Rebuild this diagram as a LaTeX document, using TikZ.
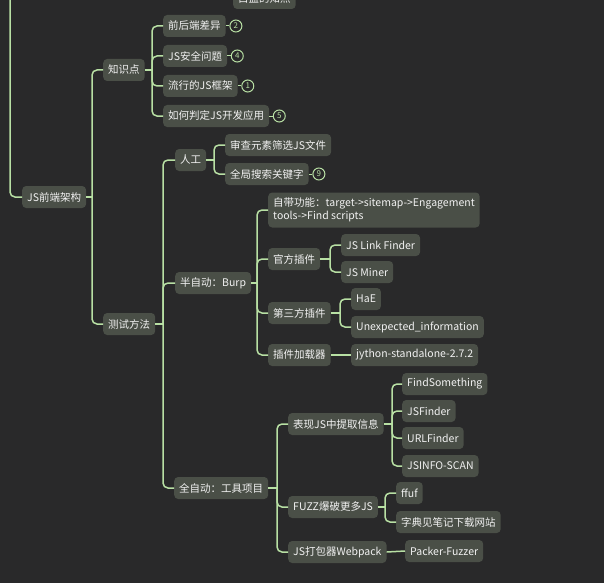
\documentclass[tikz,border=0pt]{standalone}
\usepackage{fontspec}
\setmainfont{Noto Sans CJK SC}
\usetikzlibrary{calc}
\definecolor{bg}{HTML}{29292A}
\definecolor{nodefill}{HTML}{4A4F47}
\definecolor{linec}{HTML}{B8E0A4}
\definecolor{txt}{HTML}{F2F2F2}
\tikzset{
 mm/.style={fill=nodefill, rounded corners=4pt, text=txt, font=\fontsize{10.5}{13}\selectfont, inner xsep=5pt, inner ysep=0pt, minimum height=22pt, anchor=west},
 conn/.style={draw=linec, line width=1.5pt, rounded corners=5pt},
 badge/.style={circle, draw=linec, line width=1pt, text=linec, font=\fontsize{8}{8}\selectfont, inner sep=0pt, minimum size=12pt}
}
\begin{document}
\begin{tikzpicture}[x=1pt,y=-1pt]
\fill[bg] (0,0) rectangle (604,583);
\clip (0,0) rectangle (604,583);
% nodes
\node[mm] (top) at (233,-2) {白盒的知点};
\node[mm] (root) at (22,197) {JS前端架构};
\node[mm] (zs) at (103,70) {知识点};
\node[mm] (cs) at (103,324) {测试方法};
\node[mm] (k1) at (163,26) {前后端差异};
\node[mm] (k2) at (163,56) {JS安全问题};
\node[mm] (k3) at (163,86) {流行的JS框架};
\node[mm] (k4) at (163,116) {如何判定JS开发应用};
\node[mm] (rg) at (175,160) {人工};
\node[mm] (rg1) at (225,145) {审查元素筛选JS文件};
\node[mm] (rg2) at (225,174) {全局搜索关键字};
\node[mm] (bz) at (175,283) {半自动：Burp};
\node[mm, align=left, minimum height=35pt] (bz1) at (268,210) {自带功能：target->sitemap->Engagement\\tools->Find scripts};
\node[mm] (gf) at (268,259) {官方插件};
\node[mm] (gf1) at (341,245) {JS Link Finder};
\node[mm] (gf2) at (341,272) {JS Miner};
\node[mm] (sf) at (268,313) {第三方插件};
\node[mm] (sf1) at (351,299) {HaE};
\node[mm] (sf2) at (351,327) {Unexpected\_information};
\node[mm] (jz) at (268,355) {插件加载器};
\node[mm] (jz1) at (351,355) {jython-standalone-2.7.2};
\node[mm] (qz) at (174,488) {全自动：工具项目};
\node[mm] (bx) at (288,424) {表现JS中提取信息};
\node[mm] (bx1) at (402,384) {FindSomething};
\node[mm] (bx2) at (402,411) {JSFinder};
\node[mm] (bx3) at (402,438) {URLFinder};
\node[mm] (bx4) at (402,466) {JSINFO-SCAN};
\node[mm] (fz) at (288,507) {FUZZ爆破更多JS};
\node[mm] (fz1) at (396,493) {ffuf};
\node[mm] (fz2) at (396,522) {字典见笔记下载网站};
\node[mm] (db) at (288,552) {JS打包器Webpack};
\node[mm] (db1) at (405,551) {Packer-Fuzzer};
% badges
\node[badge] (b1) at ($(k1.east)+(10,0)$) {2};
\node[badge] (b2) at ($(k2.east)+(10,0)$) {4};
\node[badge] (b3) at ($(k3.east)+(10,0)$) {1};
\node[badge] (b4) at ($(k4.east)+(10,0)$) {5};
\node[badge] (b5) at ($(rg2.east)+(10,0)$) {9};
\foreach \a/\b in {k1/b1,k2/b2,k3/b3,k4/b4,rg2/b5}{\draw[draw=linec, line width=1pt] (\a.east) -- (\b.west);}
% connectors
\coordinate (L) at (10,0);
\draw[conn] (L) |- (root.west);
% trunk coordinates
\coordinate (rootT) at ($(zs.west |- root.east)+(-11,0)$);
\coordinate (zsT) at ($(k1.west |- zs.east)+(-11,0)$);
\coordinate (csT) at ($(rg.west |- cs.east)+(-12,0)$);
\coordinate (rgT) at ($(rg1.west |- rg.east)+(-11,0)$);
\coordinate (bzT) at ($(bz1.west |- bz.east)+(-11,0)$);
\coordinate (gfT) at ($(gf1.west |- gf.east)+(-11,0)$);
\coordinate (sfT) at ($(sf1.west |- sf.east)+(-11,0)$);
\coordinate (qzT) at ($(bx.west |- qz.east)+(-11,0)$);
\coordinate (bxT) at ($(bx1.west |- bx.east)+(-10,0)$);
\coordinate (fzT) at ($(fz1.west |- fz.east)+(-11,0)$);
\foreach \p/\cl in {root/{zs,cs}, zs/{k1,k2,k3,k4}, cs/{rg,bz,qz}, rg/{rg1,rg2}, bz/{bz1,gf,sf,jz}, gf/{gf1,gf2}, sf/{sf1,sf2}, qz/{bx,fz,db}, bx/{bx1,bx2,bx3,bx4}, fz/{fz1,fz2}}{
  \draw[conn] (\p.east) -- (\p T);
  \foreach \c in \cl {\draw[conn] (\p T) |- (\c.west);}
}
\draw[conn] (jz.east) -- (jz1.west);
\draw[conn] (db.east) -- (db1.west);
\end{tikzpicture}
\end{document}
